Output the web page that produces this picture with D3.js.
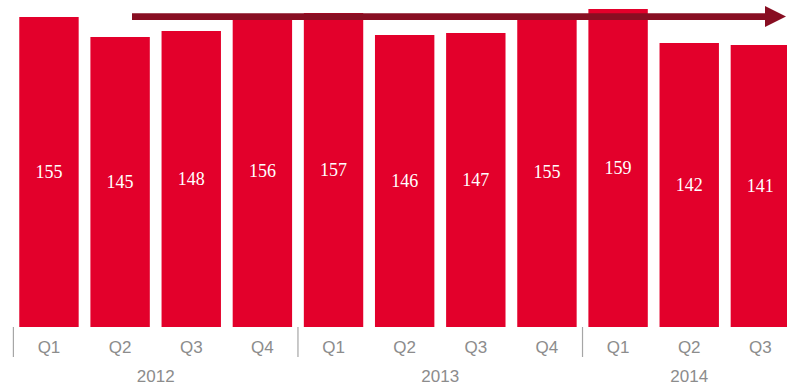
<!DOCTYPE html>
<html>
<head>
<meta charset="utf-8">
<script src="https://cdn.jsdelivr.net/npm/d3@7"></script>
<style>
  html, body { margin: 0; padding: 0; background: #fff; }
  svg { display: block; }
</style>
</head>
<body>
<svg id="chart" width="787" height="387"></svg>
<script>
// Quarterly figures, 2012 Q1 – 2014 Q3
const years    = ["2012", "2012", "2012", "2012", "2013", "2013", "2013", "2013", "2014", "2014", "2014"];
const quarters = ["Q1", "Q2", "Q3", "Q4", "Q1", "Q2", "Q3", "Q4", "Q1", "Q2", "Q3"];
const values   = [155, 145, 148, 156, 157, 146, 147, 155, 159, 142, 141];
const yearLabels = ["2012", "2013", "2014"];

const data = values.map((v, i) => ({ key: years[i] + "-" + quarters[i], year: years[i], q: quarters[i], v }));

const svg = d3.select("#chart");
const W = 787;
const baseY = 327;

const x = d3.scaleBand()
  .domain(data.map(d => d.key))
  .range([13.4, 13.4 + 11 * 71.14])
  .paddingInner(0.165)
  .paddingOuter(0.0825);

const y = d3.scaleLinear().domain([0, 163.5]).range([baseY, 0]);

const barColor = "#e3002b";
const gray = "#8c8c8c";

// bars
svg.append("g").selectAll("rect")
  .data(data)
  .join("rect")
  .attr("x", d => x(d.key))
  .attr("y", d => y(d.v))
  .attr("width", x.bandwidth())
  .attr("height", d => baseY - y(d.v))
  .attr("fill", barColor);

// value labels in the middle of each bar
svg.append("g").selectAll("text")
  .data(data)
  .join("text")
  .attr("x", d => x(d.key) + x.bandwidth() / 2)
  .attr("y", d => (y(d.v) + baseY) / 2)
  .attr("dy", "0.35em")
  .attr("text-anchor", "middle")
  .attr("fill", "#fff")
  .attr("font-family", "Liberation Serif, DejaVu Serif, serif")
  .attr("font-size", 18)
  .text(d => d.v);

// quarter labels
svg.append("g").selectAll("text")
  .data(data)
  .join("text")
  .attr("x", d => x(d.key) + x.bandwidth() / 2)
  .attr("y", 352.5)
  .attr("text-anchor", "middle")
  .attr("fill", gray)
  .attr("font-family", "Liberation Sans, Arial, sans-serif")
  .attr("font-size", 17)
  .text(d => d.q);

// year separators and year labels
const halfGap = x.step() * x.paddingInner() / 2;
yearLabels.forEach(yr => {
  const keys = data.filter(d => d.year === yr).map(d => d.key);
  const start = x(keys[0]) - halfGap;
  const end = start + keys.length * x.step();
  svg.append("line")
    .attr("x1", start).attr("x2", start)
    .attr("y1", baseY).attr("y2", 357)
    .attr("stroke", "#a6a6a6")
    .attr("stroke-width", 1.2);
  svg.append("text")
    .attr("x", (start + end) / 2)
    .attr("y", 382.3)
    .attr("text-anchor", "middle")
    .attr("fill", gray)
    .attr("font-family", "Liberation Sans, Arial, sans-serif")
    .attr("font-size", 17)
    .text(yr);
});

// trend arrow across the top
const arrowColor = "#880e22";
const ay = 16.6;
svg.append("line")
  .attr("x1", 132).attr("x2", 768)
  .attr("y1", ay).attr("y2", ay)
  .attr("stroke", arrowColor)
  .attr("stroke-width", 6.6);
svg.append("path")
  .attr("d", `M765,${ay - 10.5} L786,${ay} L765,${ay + 10.5} Z`)
  .attr("fill", arrowColor);
</script>
</body>
</html>
